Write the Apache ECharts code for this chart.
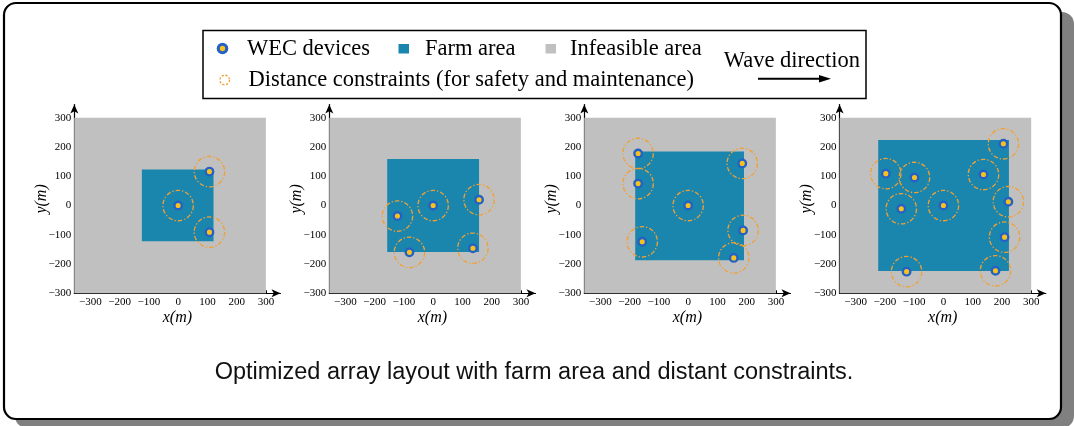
<!DOCTYPE html>
<html><head><meta charset="utf-8">
<script src="https://cdn.jsdelivr.net/npm/echarts@6/dist/echarts.min.js"></script>
<style>html,body{margin:0;padding:0;background:#fff}#c{width:1074px;height:426px}</style>
</head><body><div id="c"></div><script>
// ---- data (metres) ----
const xTicks = [-300, -200, -100, 0, 100, 200, 300];
const yTicks = [-300, -200, -100, 0, 100, 200, 300];
const xRange = [-355, 350];
const yRange = [-300, 345];
const infeasibleArea = [-355, -300, 300, 300];          // x0, y0, x1, y1
const farm1 = [-124, -122, 121, 123];
const farm2 = [-157, -159, 157, 159];
const farm3 = [-181, -187, 191, 185];
const farm4 = [-223, -224, 224, 224];
const devices1 = [[0, 0], [107, 116], [107, -91]];
const devices2 = [[0, 0], [-122, -36], [157, 20], [-81, -160], [136, -146]];
const devices3 = [[0, 0], [-171, 178], [-171, 75], [-157, -124], [185, 144], [188, -85], [156, -179]];
const devices4 = [[0, 0], [205, 211], [-197, 109], [-99, 96], [137, 106], [222, 13], [-144, -11], [209, -108], [-126, -226], [178, -223]];
const constraintRadius = 52;
const legendLabels = ['WEC devices', 'Farm area', 'Infeasible area', 'Distance constraints (for safety and maintenance)', 'Wave direction'];
const captionText = 'Optimized array layout with farm area and distant constraints.';

// ---- style ----
const GRAY = '#c0c0c0', FARM = '#1a86ad', BLUE = '#2461c6', YELLOW = '#f8c21e', ORANGE = '#f2a033';
const SERIF = 'Liberation Serif, Times New Roman, serif';
const SANS = 'Liberation Sans, Arial, sans-serif';
const panelLefts = [74.3, 329.3, 584.3, 839.6];
const gridTop = 104.6, gridW = 206.2, gridH = 188.7;

const farms = [farm1, farm2, farm3, farm4];
const devices = [devices1, devices2, devices3, devices4];
const minus = v => String(v).replace('-', '\u2212');

function rectItem(params, api) {
  const p0 = api.coord([api.value(0), api.value(1)]);
  const p1 = api.coord([api.value(2), api.value(3)]);
  return {
    type: 'rect',
    shape: { x: Math.min(p0[0], p1[0]), y: Math.min(p0[1], p1[1]), width: Math.abs(p1[0] - p0[0]), height: Math.abs(p1[1] - p0[1]) },
    style: { fill: api.visual('color') }
  };
}
function circleItem(params, api) {
  const c = api.coord([api.value(0), api.value(1)]);
  const r = api.size([constraintRadius, 0])[0];
  return {
    type: 'circle',
    shape: { cx: c[0], cy: c[1], r: r },
    style: { fill: 'none', stroke: ORANGE, lineWidth: 1.3, lineDash: [4.5, 2, 1.3, 2] }
  };
}

const grid = [], xAxis = [], yAxis = [], series = [];
for (let i = 0; i < 4; i++) {
  grid.push({ left: panelLefts[i], top: gridTop, width: gridW, height: gridH });
  xAxis.push({
    gridIndex: i, type: 'value', min: xRange[0], max: xRange[1],
    axisLine: { show: true, onZero: false, symbol: ['none', 'arrow'], symbolSize: [6, 9], lineStyle: { color: '#000', width: 1.2 } },
    axisTick: { show: true, inside: true, length: 3, customValues: xTicks, lineStyle: { color: '#000', width: 1 } },
    axisLabel: { customValues: xTicks, formatter: minus, fontFamily: SERIF, fontSize: 11, color: '#000', margin: 3 },
    splitLine: { show: false },
    name: 'x(m)', nameLocation: 'middle', nameGap: 16, nameMoveOverlap: false,
    nameTextStyle: { fontFamily: SERIF, fontStyle: 'italic', fontSize: 16, color: '#000' }
  });
  yAxis.push({
    gridIndex: i, type: 'value', min: yRange[0], max: yRange[1],
    axisLine: { show: true, onZero: false, symbol: ['none', 'arrow'], symbolSize: [6, 9], lineStyle: { color: '#000', width: 1.2 } },
    axisTick: { show: true, inside: true, length: 3, customValues: yTicks, lineStyle: { color: '#000', width: 1 } },
    axisLabel: { customValues: yTicks, formatter: minus, fontFamily: SERIF, fontSize: 11, color: '#000', margin: 3 },
    splitLine: { show: false },
    name: 'y(m)', nameLocation: 'middle', nameGap: 25, nameMoveOverlap: false,
    nameTextStyle: { fontFamily: SERIF, fontStyle: 'italic', fontSize: 16, color: '#000' }
  });
  series.push({
    type: 'custom', xAxisIndex: i, yAxisIndex: i, renderItem: rectItem, clip: false, silent: true, z: 1,
    itemStyle: { color: GRAY }, encode: { x: [0, 2], y: [1, 3] }, data: [infeasibleArea]
  });
  series.push({
    type: 'custom', xAxisIndex: i, yAxisIndex: i, renderItem: rectItem, clip: false, silent: true, z: 2,
    itemStyle: { color: FARM }, encode: { x: [0, 2], y: [1, 3] }, data: [farms[i]]
  });
  series.push({
    type: 'custom', xAxisIndex: i, yAxisIndex: i, renderItem: circleItem, clip: false, silent: true, z: 3,
    encode: { x: 0, y: 1 }, data: devices[i]
  });
  series.push({
    type: 'scatter', xAxisIndex: i, yAxisIndex: i, silent: true, z: 4,
    symbol: 'circle', symbolSize: 7.5,
    itemStyle: { color: YELLOW, borderColor: BLUE, borderWidth: 2.4, opacity: 1 },
    data: devices[i]
  });
}

const legendFont = { fontFamily: SERIF, fontSize: 22.5, fill: '#000', verticalAlign: 'middle', align: 'left' };
const graphic = [
  { type: 'rect', z: -10, shape: { x: 15, y: 12, width: 1059, height: 416, r: 12 }, style: { fill: '#808080' } },
  { type: 'rect', z: -9, shape: { x: 4, y: 3, width: 1057, height: 416, r: 12 }, style: { fill: '#fff', stroke: '#000', lineWidth: 2.2 } },
  { type: 'rect', z: 10, shape: { x: 203, y: 30.5, width: 663, height: 68 }, style: { fill: '#fff', stroke: '#000', lineWidth: 1.5 } },
  { type: 'circle', z: 11, shape: { cx: 222.5, cy: 48.5, r: 5.8 }, style: { fill: BLUE } },
  { type: 'circle', z: 12, shape: { cx: 222.5, cy: 48.5, r: 2.7 }, style: { fill: YELLOW } },
  { type: 'text', z: 11, x: 247, y: 49, style: Object.assign({ text: legendLabels[0] }, legendFont) },
  { type: 'rect', z: 11, shape: { x: 398.5, y: 44, width: 10.5, height: 9.5 }, style: { fill: FARM } },
  { type: 'text', z: 11, x: 425, y: 49, style: Object.assign({ text: legendLabels[1] }, legendFont) },
  { type: 'rect', z: 11, shape: { x: 545.5, y: 44, width: 10.5, height: 9.5 }, style: { fill: GRAY } },
  { type: 'text', z: 11, x: 570, y: 49, style: Object.assign({ text: legendLabels[2] }, legendFont) },
  { type: 'circle', z: 11, shape: { cx: 224.7, cy: 80, r: 4.8 }, style: { fill: 'none', stroke: ORANGE, lineWidth: 1.3, lineDash: [2.2, 1.6] } },
  { type: 'text', z: 11, x: 248.5, y: 80.5, style: Object.assign({ text: legendLabels[3] }, legendFont) },
  { type: 'text', z: 11, x: 723.8, y: 61.5, style: Object.assign({ text: legendLabels[4] }, legendFont) },
  { type: 'line', z: 11, shape: { x1: 758, y1: 78.7, x2: 822, y2: 78.7 }, style: { stroke: '#000', lineWidth: 2 } },
  { type: 'polygon', z: 11, shape: { points: [[819, 75], [831, 78.7], [819, 82.4]] }, style: { fill: '#000' } },
  { type: 'text', z: 11, x: 534, y: 373, style: { text: captionText, fontFamily: SANS, fontSize: 23.5, fill: '#111', align: 'center', verticalAlign: 'middle' } }
];

const chart = echarts.init(document.getElementById('c'), null, { renderer: 'canvas' });
chart.setOption({ animation: false, backgroundColor: '#fff', grid, xAxis, yAxis, series, graphic });
</script></body></html>
